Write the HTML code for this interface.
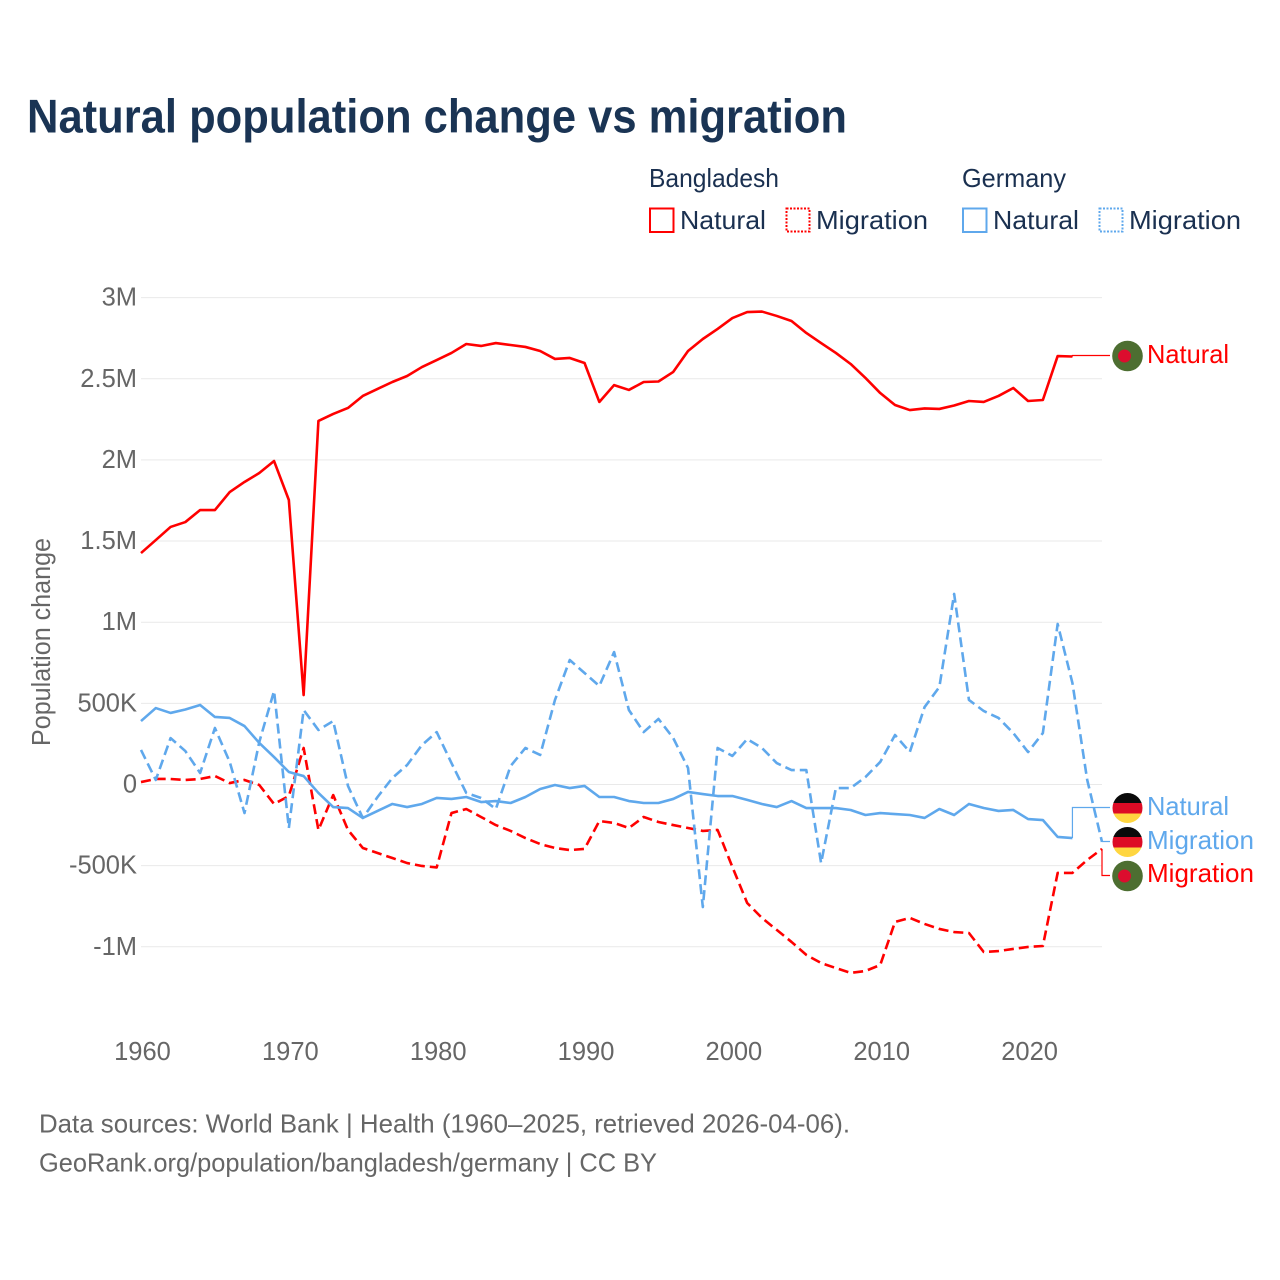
<!DOCTYPE html>
<html lang="en">
<head>
<meta charset="utf-8">
<title>Natural population change vs migration</title>
<style>
html,body{margin:0;padding:0;background:#fff;}
svg{display:block;font-family:"Liberation Sans",sans-serif;}
.tick{fill:#666;font-size:25.5px;}
.leg{fill:#1a3050;font-size:26px;}
.foot{fill:#666;font-size:26px;}
.lab{font-size:26px;}
</style>
</head>
<body>
<svg id="chart" xmlns="http://www.w3.org/2000/svg" width="1280" height="1280" viewBox="0 0 1280 1280">
  <text x="27" y="132.5" font-size="47" font-weight="700" fill="#1a3454" textLength="820" lengthAdjust="spacingAndGlyphs">Natural population change vs migration</text>

  <g>
    <text class="leg" x="649" y="187" textLength="130" lengthAdjust="spacingAndGlyphs">Bangladesh</text>
    <text class="leg" x="962" y="187" textLength="104" lengthAdjust="spacingAndGlyphs">Germany</text>
    <rect x="650" y="208.5" width="23.5" height="23.5" fill="none" stroke="#ff0000" stroke-width="2"/>
    <text class="leg" x="680" y="229" textLength="86" lengthAdjust="spacingAndGlyphs">Natural</text>
    <rect x="786.5" y="208.5" width="23" height="23" fill="none" stroke="#ff0000" stroke-width="2" stroke-dasharray="2 1.5"/>
    <text class="leg" x="816" y="229" textLength="112" lengthAdjust="spacingAndGlyphs">Migration</text>
    <rect x="963" y="208.5" width="23.5" height="23.5" fill="none" stroke="#5fa8ec" stroke-width="2"/>
    <text class="leg" x="993" y="229" textLength="86" lengthAdjust="spacingAndGlyphs">Natural</text>
    <rect x="1099.5" y="208.5" width="23" height="23" fill="none" stroke="#5fa8ec" stroke-width="2" stroke-dasharray="2 1.5"/>
    <text class="leg" x="1129" y="229" textLength="112" lengthAdjust="spacingAndGlyphs">Migration</text>
  </g>

  <g id="grid"></g>
  <g id="yticks"></g>
  <g id="xticks"></g>
  <text class="tick" transform="translate(50,746) rotate(-90)" font-size="25.5" textLength="208" lengthAdjust="spacingAndGlyphs">Population change</text>

  <g id="series"></g>
  <g id="connectors"></g>

  <defs>
    <clipPath id="clip-natural-de"><circle cx="1127.5" cy="808" r="15"/></clipPath>
    <clipPath id="clip-migration-de"><circle cx="1127.5" cy="842" r="15"/></clipPath>
  </defs>

  <g>
    <circle cx="1127.5" cy="356" r="15.3" fill="#4d6e31"/>
    <circle cx="1124.5" cy="356" r="6.5" fill="#dc0d2e"/>
  </g>
  <g clip-path="url(#clip-natural-de)">
    <rect x="1112" y="793" width="31" height="10" fill="#0a0a0a"/>
    <rect x="1112" y="803" width="31" height="10.5" fill="#dd0b25"/>
    <rect x="1112" y="813.5" width="31" height="10" fill="#ffd640"/>
  </g>
  <g clip-path="url(#clip-migration-de)">
    <rect x="1112" y="827" width="31" height="10" fill="#0a0a0a"/>
    <rect x="1112" y="837" width="31" height="10.5" fill="#dd0b25"/>
    <rect x="1112" y="847.5" width="31" height="10" fill="#ffd640"/>
  </g>
  <g>
    <circle cx="1127.5" cy="876" r="15.3" fill="#4d6e31"/>
    <circle cx="1124.5" cy="876" r="6.5" fill="#dc0d2e"/>
  </g>

  <text class="lab" x="1147" y="363" fill="#ff0000" textLength="82" lengthAdjust="spacingAndGlyphs">Natural</text>
  <text class="lab" x="1147" y="815" fill="#5fa8ec" textLength="82" lengthAdjust="spacingAndGlyphs">Natural</text>
  <text class="lab" x="1147" y="849" fill="#5fa8ec" textLength="107" lengthAdjust="spacingAndGlyphs">Migration</text>
  <text class="lab" x="1147" y="882" fill="#ff0000" textLength="107" lengthAdjust="spacingAndGlyphs">Migration</text>

  <text class="foot" x="39" y="1132.5" textLength="811" lengthAdjust="spacingAndGlyphs">Data sources: World Bank | Health (1960–2025, retrieved 2026-04-06).</text>
  <text class="foot" x="39" y="1171.5" textLength="618" lengthAdjust="spacingAndGlyphs">GeoRank.org/population/bangladesh/germany | CC BY</text>
</svg>

<script>
const startYear = 1960;
const endYear = 2025;
const yTickValues = [3000, 2500, 2000, 1500, 1000, 500, 0, -500, -1000];
const yTickLabels = ["3M", "2.5M", "2M", "1.5M", "1M", "500K", "0", "-500K", "-1M"];
const xTickYears = [1960, 1970, 1980, 1990, 2000, 2010, 2020];

// Values in thousands of people, 1960 onward
const bangladeshNatural = [1426,1506,1587,1617,1691,1691,1802,1864,1919,1993,1753,551,2240,2283,2320,2394,2437,2480,2517,2572,2615,2659,2714,2702,2720,2708,2696,2671,2622,2628,2597,2357,2461,2431,2480,2483,2542,2671,2745,2807,2874,2911,2914,2887,2856,2782,2720,2659,2591,2505,2412,2338,2307,2317,2314,2335,2363,2357,2394,2443,2363,2369,2640,2637];
const bangladeshMigration = [15,34,34,28,34,52,9,28,-3,-120,-71,225,-280,-65,-280,-391,-422,-453,-484,-502,-511,-176,-151,-200,-250,-286,-330,-367,-391,-404,-397,-225,-237,-268,-200,-231,-250,-268,-286,-280,-508,-730,-822,-896,-970,-1050,-1100,-1131,-1161,-1149,-1112,-847,-822,-859,-890,-909,-915,-1032,-1026,-1013,-1001,-995,-545,-545,-465,-397];
const germanyNatural = [391,471,441,462,490,416,410,360,256,169,77,52,-52,-139,-145,-206,-163,-120,-139,-120,-83,-89,-77,-108,-102,-114,-77,-28,-3,-22,-9,-77,-77,-102,-114,-114,-89,-46,-59,-71,-71,-95,-120,-139,-102,-145,-145,-145,-157,-188,-176,-182,-188,-206,-151,-188,-120,-145,-163,-157,-213,-219,-323,-330];
const germanyMigration = [213,28,286,206,71,348,139,-176,262,576,-268,459,336,391,-9,-206,-77,40,120,243,323,132,-52,-83,-151,114,225,182,521,767,687,607,816,459,323,404,286,102,-755,225,176,280,225,132,89,89,-484,-22,-22,46,139,305,200,477,601,1174,521,453,410,317,200,317,989,625,28,-354];

const RED = "#ff0000";
const BLUE = "#5fa8ec";
const NS = "http://www.w3.org/2000/svg";

function xScale(year) {
  return 141 + (year - startYear) * (1102 - 141) / (endYear - startYear);
}
function yScale(value) {
  return 784.5 - value * 0.1623;
}
function make(tag, parent) {
  const el = document.createElementNS(NS, tag);
  parent.appendChild(el);
  return el;
}
function linePath(values) {
  return values.map(function (v, i) {
    return (i ? "L" : "M") + xScale(startYear + i).toFixed(2) + " " + yScale(v).toFixed(2);
  }).join(" ");
}

const gridGroup = document.getElementById("grid");
const yTickGroup = document.getElementById("yticks");
yTickValues.forEach(function (v, i) {
  const g = make("line", gridGroup);
  
  
  g.setAttribute("x1", xScale(startYear));
  g.setAttribute("x2", xScale(endYear));
  g.setAttribute("y1", yScale(v));
  g.setAttribute("y2", yScale(v));
  g.setAttribute("stroke", "#e9e9e9");
  g.setAttribute("stroke-width", "1");
  const t = make("text", yTickGroup);
  
  
  t.setAttribute("class", "tick");
  t.setAttribute("x", 137);
  t.setAttribute("y", yScale(v) + 8);
  t.setAttribute("text-anchor", "end");
  t.textContent = yTickLabels[i];
});

const xTickGroup = document.getElementById("xticks");
xTickYears.forEach(function (yr) {
  const t = make("text", xTickGroup);
  
  
  t.setAttribute("class", "tick");
  t.setAttribute("x", xScale(yr) + 1.5);
  t.setAttribute("y", 1060);
  t.setAttribute("text-anchor", "middle");
  t.textContent = String(yr);
});

const seriesGroup = document.getElementById("series");

const lineBM = make("path", seriesGroup);


lineBM.setAttribute("d", linePath(bangladeshMigration));
lineBM.setAttribute("fill", "none");
lineBM.setAttribute("stroke", RED);
lineBM.setAttribute("stroke-width", "2.6");
lineBM.setAttribute("stroke-dasharray", "10 5");
lineBM.setAttribute("stroke-linejoin", "round");

const lineBN = make("path", seriesGroup);


lineBN.setAttribute("d", linePath(bangladeshNatural));
lineBN.setAttribute("fill", "none");
lineBN.setAttribute("stroke", RED);
lineBN.setAttribute("stroke-width", "2.6");
lineBN.setAttribute("stroke-linejoin", "round");

const lineGM = make("path", seriesGroup);


lineGM.setAttribute("d", linePath(germanyMigration));
lineGM.setAttribute("fill", "none");
lineGM.setAttribute("stroke", BLUE);
lineGM.setAttribute("stroke-width", "2.6");
lineGM.setAttribute("stroke-dasharray", "10 5");
lineGM.setAttribute("stroke-linejoin", "round");

const lineGN = make("path", seriesGroup);


lineGN.setAttribute("d", linePath(germanyNatural));
lineGN.setAttribute("fill", "none");
lineGN.setAttribute("stroke", BLUE);
lineGN.setAttribute("stroke-width", "2.6");
lineGN.setAttribute("stroke-linejoin", "round");

// Thin connectors from each series end to its flag label
function connectorPath(values, labelY) {
  const last = values.length - 1;
  const ex = xScale(startYear + last);
  const ey = yScale(values[last]);
  return "M" + ex.toFixed(2) + " " + ey.toFixed(2) + " V" + labelY + " H1110";
}
const connectorGroup = document.getElementById("connectors");

const connBN = make("path", connectorGroup);


connBN.setAttribute("d", connectorPath(bangladeshNatural, 355.5));
connBN.setAttribute("fill", "none");
connBN.setAttribute("stroke", RED);
connBN.setAttribute("stroke-width", "1.2");

const connGN = make("path", connectorGroup);


connGN.setAttribute("d", connectorPath(germanyNatural, 807.5));
connGN.setAttribute("fill", "none");
connGN.setAttribute("stroke", BLUE);
connGN.setAttribute("stroke-width", "1.2");

const connGM = make("path", connectorGroup);


connGM.setAttribute("d", connectorPath(germanyMigration, 841.5));
connGM.setAttribute("fill", "none");
connGM.setAttribute("stroke", BLUE);
connGM.setAttribute("stroke-width", "1.2");

const connBM = make("path", connectorGroup);


connBM.setAttribute("d", connectorPath(bangladeshMigration, 875.5));
connBM.setAttribute("fill", "none");
connBM.setAttribute("stroke", RED);
connBM.setAttribute("stroke-width", "1.2");
</script>
</body>
</html>
